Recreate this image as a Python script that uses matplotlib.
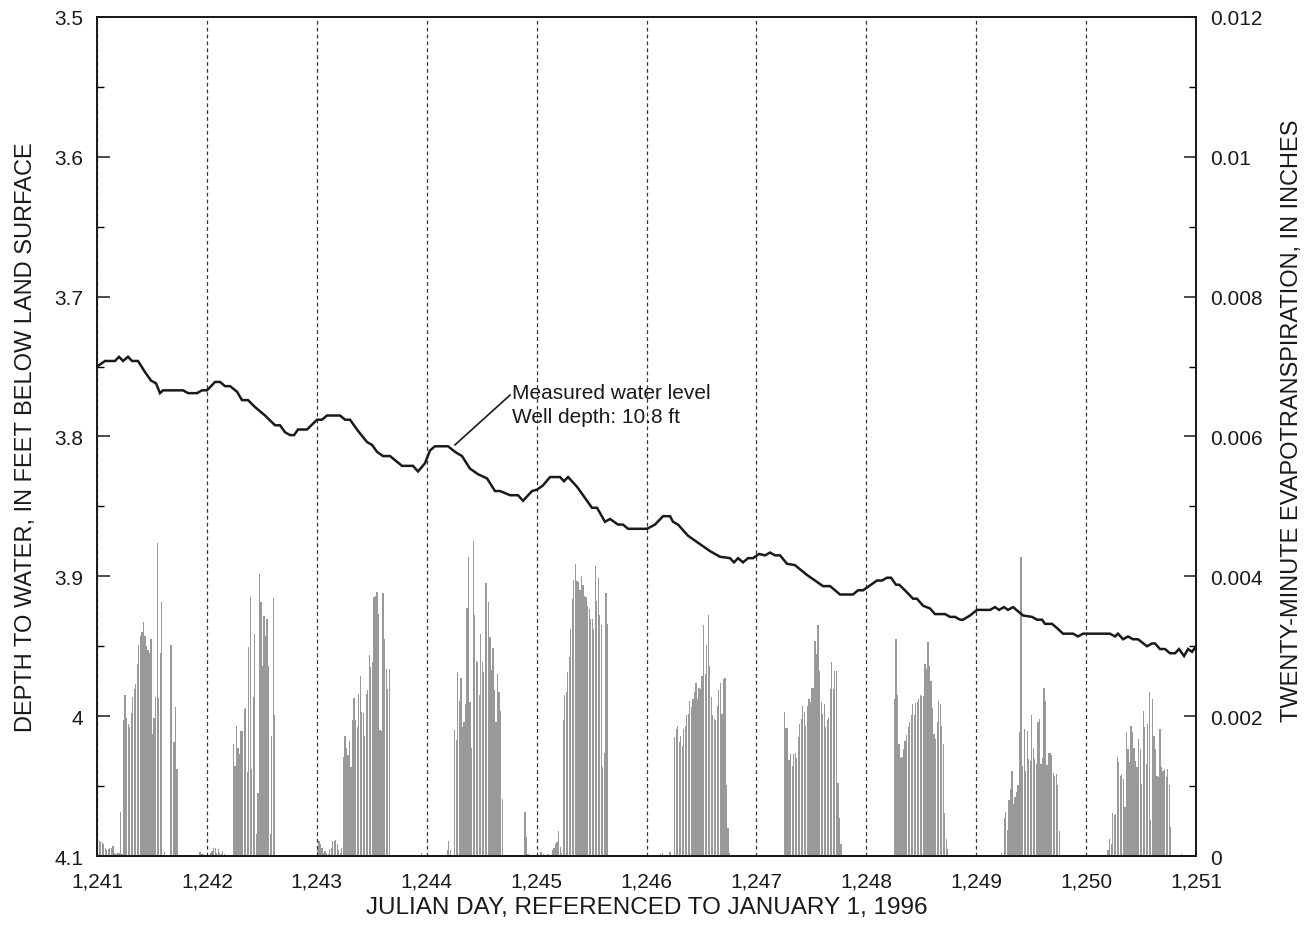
import numpy as np
import matplotlib.pyplot as plt
from matplotlib.ticker import MultipleLocator, FuncFormatter

plt.rcParams['font.family'] = ['Liberation Sans', 'DejaVu Sans']

# ===========================
# Data
# ===========================
START_DAY = 1241
END_DAY = 1251

# measured water level: offset in days from START_DAY, depth in feet
level_day = [
    0.000, 0.073, 0.164, 0.200, 0.237, 0.282, 0.318, 0.373, 0.437, 0.491,
    0.537, 0.573, 0.601, 0.783, 0.828, 0.910, 0.955, 1.001, 1.074, 1.119,
    1.165, 1.210, 1.274, 1.319, 1.374, 1.438, 1.529, 1.620, 1.665, 1.711,
    1.756, 1.793, 1.829, 1.911, 2.002, 2.047, 2.093, 2.211, 2.257, 2.302,
    2.375, 2.457, 2.502, 2.548, 2.602, 2.666, 2.775, 2.875, 2.921, 2.985,
    3.030, 3.075, 3.194, 3.258, 3.321, 3.394, 3.467, 3.549, 3.621, 3.667,
    3.758, 3.831, 3.876, 3.958, 4.004, 4.058, 4.122, 4.213, 4.249, 4.286,
    4.368, 4.440, 4.504, 4.550, 4.622, 4.668, 4.741, 4.786, 4.832, 5.005,
    5.077, 5.150, 5.214, 5.241, 5.287, 5.378, 5.487, 5.578, 5.669, 5.760,
    5.796, 5.833, 5.878, 5.924, 5.969, 6.024, 6.078, 6.124, 6.169, 6.215,
    6.278, 6.351, 6.397, 6.460, 6.533, 6.606, 6.670, 6.761, 6.879, 6.924,
    6.970, 7.097, 7.143, 7.188, 7.225, 7.270, 7.298, 7.352, 7.425, 7.461,
    7.516, 7.580, 7.625, 7.716, 7.762, 7.807, 7.853, 7.880, 7.944, 8.007,
    8.126, 8.171, 8.207, 8.253, 8.289, 8.335, 8.380, 8.426, 8.508, 8.553,
    8.599, 8.626, 8.690, 8.735, 8.790, 8.881, 8.926, 8.972, 9.217, 9.263,
    9.290, 9.336, 9.381, 9.427, 9.472, 9.554, 9.600, 9.627, 9.672, 9.718,
    9.763, 9.809, 9.845, 9.891, 9.927, 9.964, 10.000,
]
level_depth = [
    3.750, 3.746, 3.746, 3.743, 3.746, 3.743, 3.746, 3.746, 3.754, 3.760,
    3.762, 3.769, 3.767, 3.767, 3.769, 3.769, 3.767, 3.767, 3.761, 3.761,
    3.764, 3.764, 3.768, 3.774, 3.774, 3.779, 3.785, 3.792, 3.792, 3.797,
    3.799, 3.799, 3.795, 3.795, 3.788, 3.788, 3.785, 3.785, 3.788, 3.788,
    3.796, 3.804, 3.806, 3.811, 3.814, 3.814, 3.821, 3.821, 3.825, 3.819,
    3.810, 3.807, 3.807, 3.811, 3.814, 3.823, 3.827, 3.830, 3.839, 3.839,
    3.842, 3.842, 3.846, 3.839, 3.838, 3.835, 3.829, 3.829, 3.832, 3.829,
    3.836, 3.844, 3.851, 3.851, 3.861, 3.859, 3.863, 3.863, 3.866, 3.866,
    3.863, 3.857, 3.857, 3.861, 3.863, 3.871, 3.877, 3.882, 3.886, 3.887,
    3.890, 3.887, 3.890, 3.887, 3.887, 3.884, 3.885, 3.883, 3.885, 3.885,
    3.891, 3.892, 3.895, 3.899, 3.903, 3.907, 3.907, 3.913, 3.913, 3.910,
    3.910, 3.903, 3.903, 3.901, 3.901, 3.906, 3.906, 3.910, 3.916, 3.916,
    3.921, 3.923, 3.927, 3.927, 3.929, 3.929, 3.931, 3.931, 3.928, 3.924,
    3.924, 3.922, 3.924, 3.922, 3.924, 3.922, 3.925, 3.928, 3.929, 3.931,
    3.931, 3.934, 3.934, 3.937, 3.941, 3.941, 3.943, 3.941, 3.941, 3.943,
    3.941, 3.945, 3.943, 3.945, 3.945, 3.950, 3.948, 3.948, 3.952, 3.952,
    3.955, 3.955, 3.952, 3.957, 3.952, 3.954, 3.950,
]

# twenty-minute ET, 72 values per day, in units of 0.0001 inch
et_1241 = [
    2.4, 2.2, 2.0, 2.0, 1.7, 1.2, 0.8, 1.0, 1.1, 1.2, 1.5, 0.5, 0.3, 0.5, 0.5, 6.3, 0.3, 19.5,
    23.0, 19.8, 18.9, 18.4, 20.4, 22.8, 23.9, 24.6, 27.5, 30.2, 31.5, 32.0, 33.5, 31.5, 30.1, 29.4,
    29.1, 31.0, 17.5, 19.7, 22.7, 44.7, 22.6, 29.0, 36.4, 0.0, 0.6, 0.0, 0.0, 0.0, 30.2, 0.0,
    16.3, 21.3, 12.4, 0.0, 0.0, 0.0, 0.0, 0.0, 0.0, 0.0, 0.0, 0.0, 0.0, 0.0, 0.0, 0.0,
    0.0, 0.6, 0.3, 0.3, 0.0, 0.0,
]
et_1242 = [
    0.3, 0.2, 0.5, 0.7, 1.2, 1.1, 0.5, 1.0, 0.5, 0.3, 0.7, 0.3, 0.2, 0.0, 0.0, 0.0, 0.0, 16.0,
    12.9, 18.6, 15.5, 14.6, 17.9, 17.9, 21.0, 21.1, 12.0, 29.9, 37.1, 12.5, 22.8, 31.8, 3.2, 9.0,
    40.4, 36.3, 27.2, 34.3, 31.4, 33.9, 27.2, 3.1, 17.2, 36.9, 20.1, 0.0, 0.0, 0.0, 0.0, 0.0,
    0.0, 0.0, 0.0, 0.0, 0.0, 0.0, 0.0, 0.0, 0.0, 0.0, 0.0, 0.0, 0.0, 0.0, 0.0, 0.0,
    0.0, 0.0, 0.0, 0.0, 0.0, 0.0,
]
et_1243 = [
    1.2, 2.2, 1.7, 1.2, 0.5, 0.7, 0.5, 0.3, 1.0, 1.2, 2.1, 2.2, 2.3, 1.7, 0.8, 0.5, 1.1, 14.1,
    17.2, 15.4, 14.4, 16.5, 12.7, 19.5, 22.6, 19.5, 18.4, 23.2, 25.8, 20.6, 20.5, 17.2, 23.2, 23.8,
    28.7, 27.0, 27.7, 37.0, 37.2, 37.7, 34.6, 18.0, 17.9, 37.6, 31.0, 26.8, 23.9, 26.8, 0.0, 0.0,
    0.0, 0.0, 0.0, 0.0, 0.0, 0.0, 0.0, 0.0, 0.0, 0.0, 0.0, 0.0, 0.0, 0.0, 0.0, 0.0,
    0.0, 0.0, 0.5, 0.0, 0.0, 0.0,
]
et_1244 = [
    0.0, 0.0, 0.0, 0.0, 0.0, 0.0, 0.0, 0.0, 0.0, 0.0, 0.0, 0.0, 0.0, 0.8, 2.2, 0.8, 0.0, 0.0,
    18.0, 16.6, 26.3, 22.1, 25.4, 18.4, 19.1, 21.7, 35.4, 42.7, 22.0, 15.5, 45.0, 34.4, 27.9, 27.7,
    23.0, 31.8, 27.7, 26.3, 39.0, 39.1, 36.4, 31.3, 26.6, 29.7, 23.7, 19.1, 26.1, 23.4, 20.8, 8.2,
    0.0, 0.0, 0.0, 0.0, 0.0, 0.0, 0.0, 0.0, 0.0, 0.0, 0.0, 0.0, 0.0, 0.0, 6.3, 2.7,
    0.3, 0.0, 0.0, 0.0, 0.0, 0.0,
]
et_1245 = [
    0.0, 0.0, 0.6, 0.6, 0.3, 0.0, 0.1, 0.3, 0.0, 0.0, 0.8, 1.2, 1.7, 2.0, 3.6, 1.3, 0.5, 19.5,
    23.0, 23.5, 26.3, 28.4, 32.5, 36.8, 39.5, 41.8, 39.4, 39.2, 38.0, 40.1, 38.7, 37.2, 37.1, 35.7,
    35.3, 33.9, 33.9, 32.5, 41.5, 36.5, 39.7, 34.4, 33.0, 12.7, 14.8, 37.6, 33.2, 0.0, 0.0, 0.0,
    0.0, 0.0, 0.0, 0.0, 0.0, 0.0, 0.0, 0.0, 0.0, 0.0, 0.0, 0.0, 0.0, 0.0, 0.0, 0.0,
    0.0, 0.0, 0.0, 0.0, 0.0, 0.0,
]
et_1246 = [
    0.0, 0.0, 0.0, 0.0, 0.0, 0.0, 0.0, 0.0, 0.0, 0.3, 0.4, 0.0, 0.0, 0.0, 0.0, 0.6, 0.0, 0.0,
    17.0, 18.2, 18.6, 16.3, 17.1, 15.8, 18.1, 18.6, 20.1, 20.3, 22.2, 21.3, 22.5, 23.4, 24.8, 22.5,
    24.0, 23.9, 25.8, 33.0, 26.0, 30.2, 34.5, 27.2, 22.7, 20.1, 19.6, 19.4, 21.5, 23.7, 24.8, 20.3,
    25.3, 25.4, 10.2, 4.0, 0.5, 0.0, 0.0, 0.0, 0.0, 0.0, 0.0, 0.0, 0.0, 0.0, 0.0, 0.0,
    0.0, 0.0, 0.0, 0.0, 0.0, 0.0,
]
et_1247 = [
    0.0, 0.0, 0.0, 0.0, 0.0, 0.0, 0.0, 0.0, 0.0, 0.0, 0.0, 0.0, 0.0, 0.0, 0.0, 0.0, 0.0, 0.0,
    20.6, 18.3, 18.3, 13.8, 14.6, 12.9, 14.6, 14.8, 14.0, 17.0, 18.9, 19.6, 21.4, 20.6, 18.6, 21.5,
    22.5, 22.0, 24.1, 24.0, 30.8, 28.9, 33.0, 26.4, 22.0, 20.3, 21.7, 18.4, 19.4, 19.7, 23.9, 27.8,
    23.9, 26.4, 26.4, 10.5, 5.5, 1.7, 0.0, 0.0, 0.0, 0.0, 0.0, 0.0, 0.0, 0.0, 0.0, 0.0,
    0.0, 0.0, 0.0, 0.0, 0.0, 0.0,
]
et_1248 = [
    0.0, 0.0, 0.0, 0.0, 0.0, 0.0, 0.0, 0.0, 0.0, 0.0, 0.0, 0.0, 0.0, 0.0, 0.0, 0.0, 0.0, 0.0,
    22.5, 31.1, 23.0, 16.0, 14.0, 14.1, 15.3, 16.5, 17.3, 18.4, 19.1, 20.1, 21.8, 20.2, 21.9, 22.0,
    22.5, 23.0, 22.9, 22.9, 27.5, 26.8, 30.6, 27.2, 25.1, 21.1, 17.5, 16.7, 19.1, 22.2, 21.7, 18.6,
    16.0, 6.2, 2.4, 1.0, 0.0, 0.0, 0.0, 0.0, 0.0, 0.0, 0.0, 0.0, 0.0, 0.0, 0.0, 0.0,
    0.0, 0.0, 0.0, 0.0, 0.0, 0.0,
]
et_1249 = [
    0.0, 0.0, 0.0, 0.0, 0.0, 0.0, 0.0, 0.0, 0.0, 0.0, 0.0, 0.0, 0.0, 0.0, 0.0, 0.0, 0.4, 0.0,
    5.5, 6.3, 3.7, 8.0, 9.6, 12.2, 7.4, 8.4, 9.2, 10.2, 17.7, 42.7, 12.9, 18.2, 12.2, 17.9,
    13.9, 13.6, 20.1, 15.5, 13.9, 13.2, 19.1, 19.6, 13.2, 14.0, 24.1, 22.1, 13.0, 14.8, 14.8, 14.4,
    11.9, 11.5, 11.7, 10.1, 3.6, 0.0, 0.0, 0.0, 0.0, 0.0, 0.0, 0.0, 0.0, 0.0, 0.0, 0.0,
    0.0, 0.0, 0.0, 0.0, 0.0, 0.0,
]
et_1250 = [
    0.0, 0.0, 0.0, 0.0, 0.0, 0.0, 0.0, 0.0, 0.0, 0.0, 0.0, 0.0, 0.0, 0.0, 0.8, 2.4, 1.7, 6.1,
    5.8, 6.0, 14.1, 13.4, 11.5, 11.7, 11.0, 7.0, 17.7, 15.3, 13.5, 18.6, 17.7, 15.4, 13.6, 12.7,
    16.7, 15.3, 10.3, 20.8, 18.4, 13.2, 18.9, 23.4, 5.1, 22.5, 17.2, 15.3, 11.5, 11.3, 18.2, 12.7,
    12.2, 12.4, 11.3, 12.4, 10.1, 4.1, 0.0, 0.0, 0.0, 0.0, 0.0, 0.0, 0.3, 0.0, 0.0, 0.0,
    0.0, 0.0, 0.0, 0.0, 0.0, 0.0,
]
et_days = [et_1241, et_1242, et_1243, et_1244, et_1245,
           et_1246, et_1247, et_1248, et_1249, et_1250]

day_ticks = list(range(START_DAY, END_DAY + 1))
depth_ticks = [3.5, 3.6, 3.7, 3.8, 3.9, 4.0, 4.1]
et_ticks = [0, 0.002, 0.004, 0.006, 0.008, 0.01, 0.012]

# ===========================
# Figure
# ===========================
fig = plt.figure(figsize=(13.04, 9.45), dpi=100)
ax = fig.add_axes([0.0744, 0.0931, 0.8428, 0.8879])
ax2 = ax.twinx()

# ET bars (right axis)
et_values = np.concatenate(et_days) * 1e-4
et_time = START_DAY + np.arange(len(et_values)) / 72.0
ax2.bar(et_time, et_values, width=0.8 / 72, align="edge",
        color="#999999", linewidth=0)

# water level line (left axis)
ax.plot(START_DAY + np.array(level_day), level_depth,
        color="#1a1a1a", lw=1.8, solid_joinstyle="miter", zorder=3)

ax.set_zorder(ax2.get_zorder() + 1)
ax.patch.set_visible(False)

ax.set_xlim(START_DAY, END_DAY)
ax.set_ylim(4.1, 3.5)
ax2.set_ylim(0, 0.012)

ax.set_xticks(day_ticks)
ax.xaxis.set_major_formatter(FuncFormatter(lambda v, p: f"{int(round(v)):,}"))
ax.set_yticks(depth_ticks)
ax.yaxis.set_minor_locator(MultipleLocator(0.05))
ax.yaxis.set_major_formatter(FuncFormatter(lambda v, p: f"{v:g}"))
ax2.set_yticks(et_ticks)
ax2.yaxis.set_minor_locator(MultipleLocator(0.001))
ax2.yaxis.set_major_formatter(FuncFormatter(lambda v, p: f"{v:g}"))

# dotted day lines
ax.xaxis.grid(True, linestyle=(0, (3, 2.5)), color="#333333", lw=0.9)

for a in (ax, ax2):
    for s in a.spines.values():
        s.set_linewidth(1.3)
        s.set_color("#1a1a1a")
ax.tick_params(axis="both", which="major", direction="in", length=9,
               width=1.1, labelsize=15, pad=10, colors="#1a1a1a")
ax.tick_params(axis="y", which="minor", direction="in", length=5, width=1.0)
ax.tick_params(axis="x", which="major", length=0, pad=11)
ax2.tick_params(axis="y", which="major", direction="in", length=9,
                width=1.1, labelsize=15, pad=10, colors="#1a1a1a")
ax2.tick_params(axis="y", which="minor", direction="in", length=5, width=1.0)

ax.set_xlabel("JULIAN DAY, REFERENCED TO JANUARY 1, 1996", fontsize=17.5,
              labelpad=4, color="#1a1a1a")
ax.set_ylabel("DEPTH TO WATER, IN FEET BELOW LAND SURFACE", fontsize=17,
              color="#1a1a1a")
ax.yaxis.set_label_coords(-0.0546, 0.5)
ax2.set_ylabel("TWENTY-MINUTE EVAPOTRANSPIRATION, IN INCHES", fontsize=17,
               color="#1a1a1a", rotation=90)
ax2.yaxis.set_label_coords(1.077, 0.52)

# annotation
ax.plot([1244.257, 1244.758], [3.806, 3.7704], color="#1a1a1a", lw=1.2)
ax.text(1244.776, 3.762, "Measured water level\nWell depth: 10.8 ft",
        fontsize=15, ha="left", va="top", color="#1a1a1a", linespacing=1.3)

fig.savefig("out.png", dpi=100)
